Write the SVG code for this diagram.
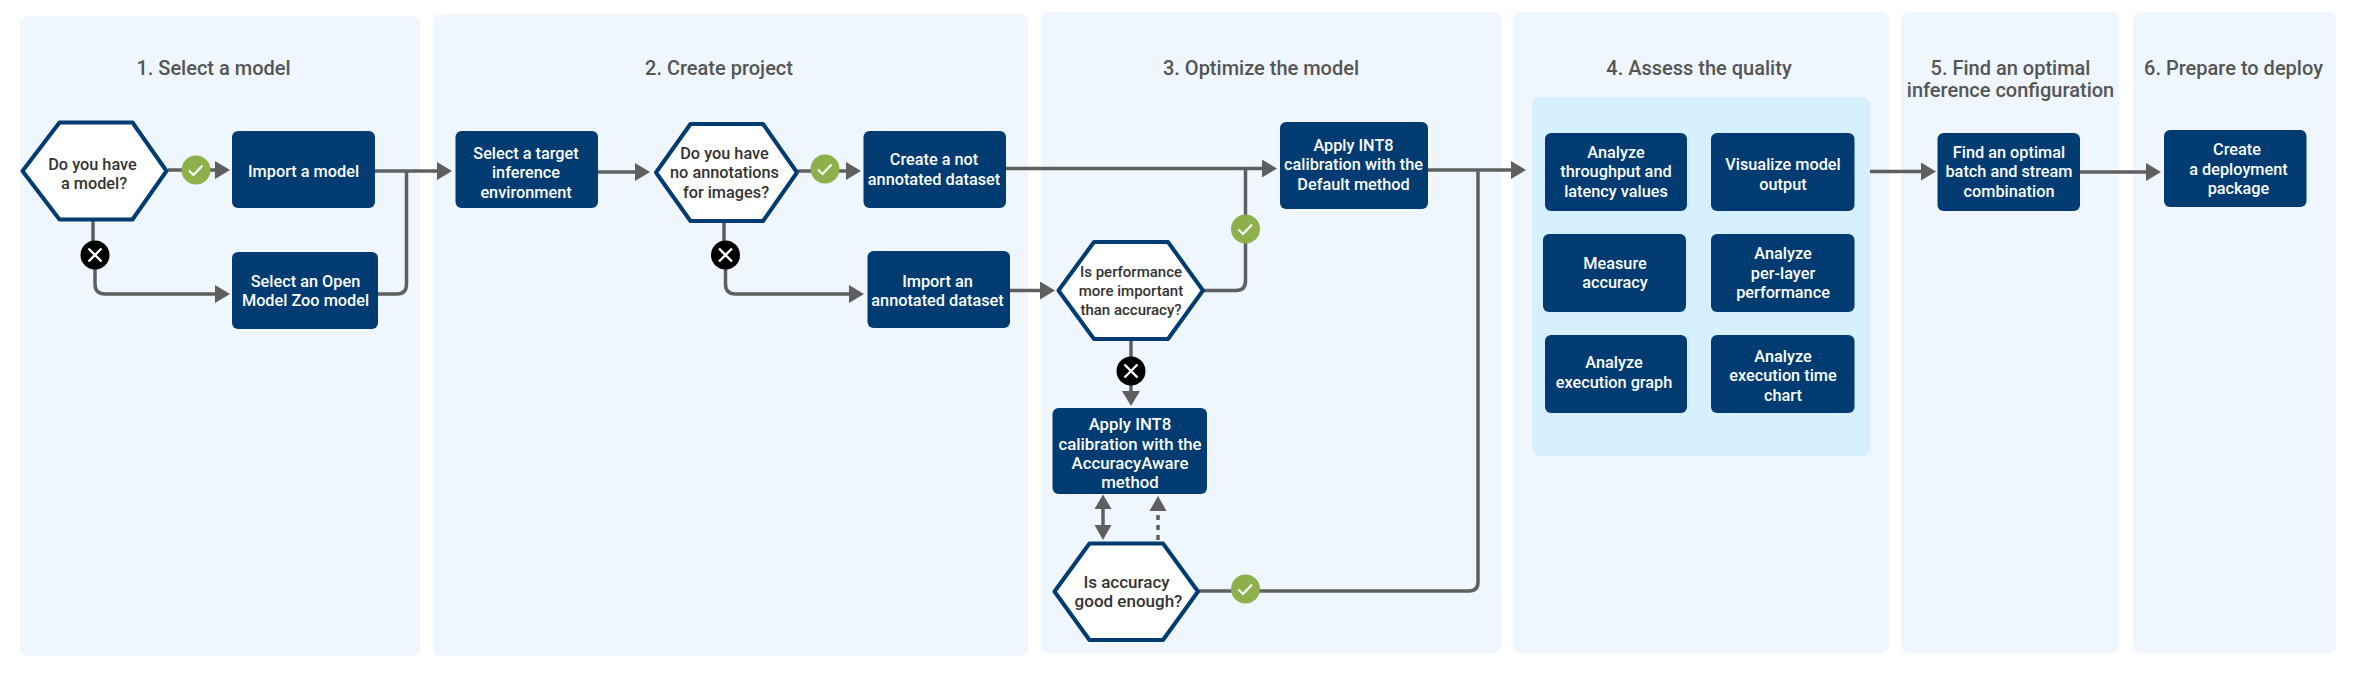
<svg xmlns="http://www.w3.org/2000/svg" width="2354" height="673" viewBox="0 0 2354 673">
<style>
text{font-family:Roboto,"Liberation Sans",sans-serif;font-weight:500;text-anchor:middle}
.panel{fill:#eff6fe}
.inner{fill:#d6f0fd}
.title{font-size:20px;fill:#555}
.box{fill:#003c71}
.hex{fill:#fff;stroke:#003c71;stroke-width:4;stroke-linejoin:round}
.bt{font-size:16.300px;fill:#fff}
.ht{font-size:16.300px;fill:#333}
.c{fill:none;stroke:#5f5f5f;stroke-width:3.500}
.a{marker-end:url(#arrow)}
</style>
<defs>
<marker id="arrow" markerUnits="userSpaceOnUse" markerWidth="16" markerHeight="19" refX="1" refY="9" orient="auto"><path d="M0 0L15 9L0 18z" fill="#5f5f5f"/></marker>
<g id="yes"><circle r="14.500" fill="#8db04b"/><path d="M-7 0.500L-2.500 5L6.500-4.500" fill="none" stroke="#fff" stroke-width="2.200"/></g>
<g id="no"><circle r="14.500" fill="#000"/><path d="M-6.500-6.500L6.500 6.500M6.500-6.500L-6.500 6.500" fill="none" stroke="#fff" stroke-width="2.400"/></g>
</defs>
<g id="panels">
<rect class="panel" x="20" y="16" width="400" height="640" rx="8"/>
<rect class="panel" x="433" y="14" width="595" height="642" rx="8"/>
<rect class="panel" x="1041" y="12" width="460" height="641" rx="8"/>
<rect class="panel" x="1513" y="12" width="376" height="641" rx="8"/>
<rect class="panel" x="1901" y="12" width="218" height="641" rx="8"/>
<rect class="panel" x="2133" y="12" width="203" height="641" rx="8"/>
<rect class="inner" x="1532" y="97" width="338" height="359" rx="8"/>
</g>
<g id="titles">
<text class="title" x="213.500" y="75">1. Select a model</text>
<text class="title" x="719" y="75">2. Create project</text>
<text class="title" x="1261" y="75">3. Optimize the model</text>
<text class="title" x="1699" y="75">4. Assess the quality</text>
<text class="title" x="2010.500" y="75">5. Find an optimal</text>
<text class="title" x="2010.500" y="97">inference configuration</text>
<text class="title" x="2233.500" y="75">6. Prepare to deploy</text>
</g>
<g id="connectors">
<path class="c a" d="M93 220V255H95V284Q95 294 105 294H216"/>
<path class="c a" d="M168 170H216"/>
<path class="c a" d="M375 171H438"/>
<path class="c" d="M378 294H397Q406.500 294 406.500 284V171"/>
<path class="c a" d="M598 172H636"/>
<path class="c a" d="M798 171H847"/>
<path class="c a" d="M724 222V255H725.500V284Q725.500 294 735.500 294H850"/>
<path class="c a" d="M1006 168.500H1263"/>
<path class="c" d="M1204 290.500H1236Q1245.500 290.500 1245.500 281V168.500"/>
<path class="c a" d="M1010 290.500H1041"/>
<path class="c a" d="M1131 340V392"/>
<path class="c a" d="M1428 170H1512"/>
<path class="c" d="M1199 591H1469Q1478 591 1478 582V170"/>
<path class="c" d="M1103 508V526"/>
<path d="M1103 494.500L1111.500 509H1094.500z" fill="#5f5f5f"/>
<path d="M1103 540L1111.500 525H1094.500z" fill="#5f5f5f"/>
<path class="c" stroke-dasharray="5 5" d="M1158 540V511"/>
<path d="M1158 496L1166.500 511H1149.500z" fill="#5f5f5f"/>
<path class="c a" d="M1870 171.500H1922"/>
<path class="c a" d="M2080 172H2147"/>
<use href="#yes" x="196" y="170"/>
<use href="#no" x="95" y="255"/>
<use href="#yes" x="825" y="169"/>
<use href="#no" x="725.500" y="255"/>
<use href="#yes" x="1245.500" y="229"/>
<use href="#no" x="1131" y="371"/>
<use href="#yes" x="1245.500" y="589"/>
</g>
<g id="n1"><polygon class="hex" points="22.500,171 59.500,122.500 132.500,122.500 166.500,171 132.500,219.500 59.500,219.500"/><text class="ht" x="92.500" y="170">Do you have</text><text class="ht" x="94" y="189">a model?</text></g>
<g id="n2"><rect class="box" x="232" y="131" width="143" height="77" rx="6"/><text class="bt" x="303.500" y="177">Import a model</text></g>
<g id="n3"><rect class="box" x="232" y="252" width="146" height="77" rx="6"/><text class="bt" x="305.500" y="286.500">Select an Open</text><text class="bt" x="305.500" y="306">Model Zoo model</text></g>
<g id="n4"><rect class="box" x="455.500" y="131" width="142.500" height="77" rx="6"/><text class="bt" x="526" y="158.500">Select a target</text><text class="bt" x="526" y="178">inference</text><text class="bt" x="526" y="197.500">environment</text></g>
<g id="n5"><polygon class="hex" points="656,172.500 690.500,124 763,124 797,172.500 763,221 690.500,221"/><text class="ht" x="724.500" y="158.500">Do you have</text><text class="ht" x="724.500" y="178">no annotations</text><text class="ht" x="726" y="197.500">for images?</text></g>
<g id="n6"><rect class="box" x="863.500" y="131" width="142.500" height="77" rx="6"/><text class="bt" x="934" y="165">Create a not</text><text class="bt" x="934" y="184.500">annotated dataset</text></g>
<g id="n7"><rect class="box" x="867.500" y="251" width="142.500" height="77" rx="6"/><text class="bt" x="937.500" y="286.500">Import an</text><text class="bt" x="937.500" y="306">annotated dataset</text></g>
<g id="n8"><rect class="box" x="1280" y="122" width="148" height="87" rx="6"/><text class="bt" x="1353.500" y="151">Apply INT8</text><text class="bt" x="1353.500" y="170">calibration with the</text><text class="bt" x="1353.500" y="190">Default method</text></g>
<g id="n9"><polygon class="hex" points="1058.500,290.500 1094,242 1168,242 1203,290.500 1168,339 1094,339"/><text class="ht" style="font-size:15px" x="1131" y="276.500">Is performance</text><text class="ht" style="font-size:15px" x="1131" y="296">more important</text><text class="ht" style="font-size:15px" x="1131" y="315">than accuracy?</text></g>
<g id="n10"><rect class="box" x="1052.500" y="408" width="154.500" height="86" rx="6"/><text class="bt" style="font-size:16.800px" x="1130" y="430">Apply INT8</text><text class="bt" style="font-size:16.800px" x="1130" y="449.500">calibration with the</text><text class="bt" style="font-size:16.800px" x="1130" y="469">AccuracyAware</text><text class="bt" style="font-size:16.800px" x="1130" y="488">method</text></g>
<g id="n11"><polygon class="hex" points="1054.500,591.500 1089.500,543.500 1163,543.500 1198,591.500 1163,640 1089.500,640"/><text class="ht" style="font-size:17px" x="1126.500" y="587.500">Is accuracy</text><text class="ht" style="font-size:17px" x="1128.500" y="606.500">good enough?</text></g>
<g id="n12"><rect class="box" x="1545" y="133" width="142" height="78" rx="6"/><text class="bt" x="1616" y="157.500">Analyze</text><text class="bt" x="1616" y="177">throughput and</text><text class="bt" x="1616" y="196.500">latency values</text></g>
<g id="n13"><rect class="box" x="1711" y="133" width="143.500" height="78" rx="6"/><text class="bt" x="1783" y="170">Visualize model</text><text class="bt" x="1783" y="190">output</text></g>
<g id="n14"><rect class="box" x="1543" y="234" width="143" height="78" rx="6"/><text class="bt" x="1615" y="268.500">Measure</text><text class="bt" x="1615" y="288">accuracy</text></g>
<g id="n15"><rect class="box" x="1711" y="234" width="143.500" height="78" rx="6"/><text class="bt" x="1783" y="259">Analyze</text><text class="bt" x="1783" y="278.500">per-layer</text><text class="bt" x="1783" y="298">performance</text></g>
<g id="n16"><rect class="box" x="1545" y="335" width="142" height="78" rx="6"/><text class="bt" x="1614" y="368">Analyze</text><text class="bt" x="1614" y="388">execution graph</text></g>
<g id="n17"><rect class="box" x="1711" y="335" width="143.500" height="78" rx="6"/><text class="bt" x="1783" y="361.500">Analyze</text><text class="bt" x="1783" y="381">execution time</text><text class="bt" x="1783" y="400.500">chart</text></g>
<g id="n18"><rect class="box" x="1937.500" y="133" width="142.500" height="78" rx="6"/><text class="bt" x="2009" y="157.500">Find an optimal</text><text class="bt" x="2009" y="177">batch and stream</text><text class="bt" x="2009" y="196.500">combination</text></g>
<g id="n19"><rect class="box" x="2164" y="130" width="142.500" height="77" rx="6"/><text class="bt" x="2237" y="154.500">Create</text><text class="bt" x="2238.500" y="174.500">a deployment</text><text class="bt" x="2238.500" y="194">package</text></g>
</svg>
